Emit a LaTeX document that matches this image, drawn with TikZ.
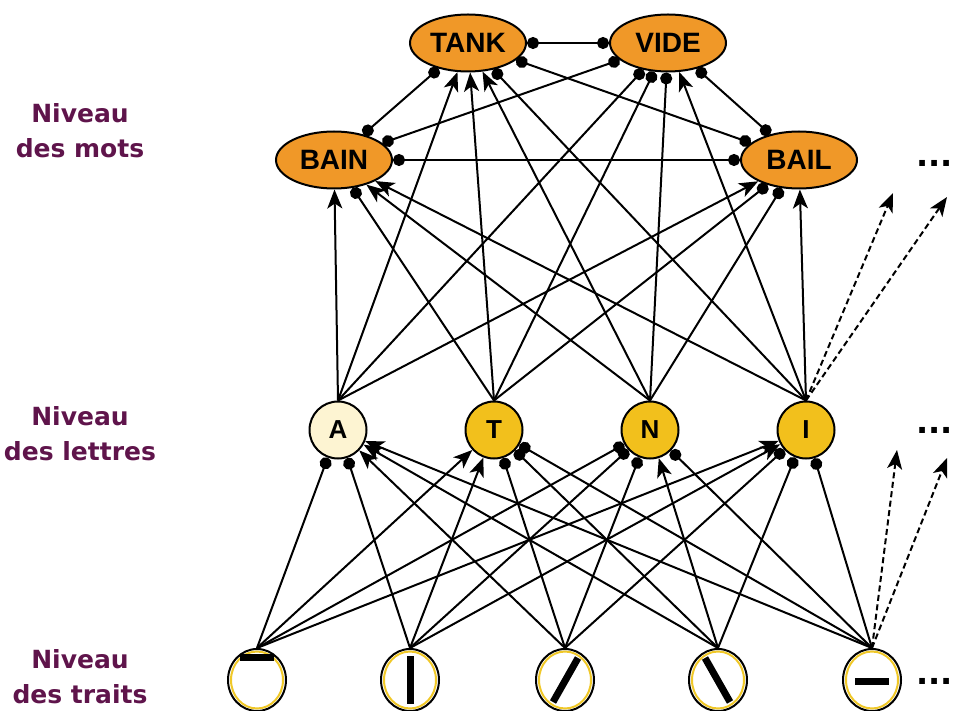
\documentclass[tikz,border=0pt]{standalone}
\usepackage{fontspec}
\setmainfont{Liberation Sans}
\newfontfamily\labfont{DejaVu Sans}
\usetikzlibrary{arrows.meta,shapes.geometric}
\definecolor{wordfill}{RGB}{240,152,40}
\definecolor{letfill}{RGB}{242,192,28}
\definecolor{afill}{RGB}{253,244,210}
\definecolor{featring}{RGB}{240,200,40}
\definecolor{labcol}{RGB}{95,20,75}
\begin{document}
\begin{tikzpicture}[x=1pt,y=-1pt,
  word/.style={ellipse, draw, line width=2pt, fill=wordfill, minimum width=116pt, minimum height=57pt, inner sep=0pt, font=\bfseries\fontsize{28}{28}\selectfont},
  letter/.style={circle, draw, line width=2pt, fill=letfill, minimum size=57pt, inner sep=0pt, font=\bfseries\fontsize{26}{26}\selectfont},
  feat/.style={ellipse, draw, line width=2pt, fill=white, minimum width=58pt, minimum height=62pt, inner sep=0pt},
  lvl/.style={text=labcol, align=center, inner sep=0pt, font=\labfont\bfseries\fontsize{25}{35}\selectfont},
  more/.style={inner sep=0pt, anchor=base west, font=\labfont\bfseries\fontsize{32}{32}\selectfont},
  exc/.style={line width=2pt, -{Stealth[length=19pt,width=15pt,inset=5pt]}},
  inh/.style={line width=2pt, -{Circle[length=12pt]}},
  mut/.style={line width=2pt, {Circle[length=12pt]}-{Circle[length=12pt]}},
  dsh/.style={line width=2pt, dash pattern=on 6pt off 3.5pt, -{Stealth[length=19pt,width=15pt,inset=5pt]}},
  ring/.style={featring, line width=2pt},
  stroke/.style={line width=7pt}
]
\useasboundingbox (0,0) rectangle (953,711);

% level labels
\node[lvl] (Lmots) at (80,131) {Niveau\\des mots};
\node[lvl] (Llet) at (80,434) {Niveau\\des lettres};
\node[lvl] (Ltr) at (80,677) {Niveau\\des traits};

% word nodes
\node[word] (TANK) at (468,43) {TANK};
\node[word] (VIDE) at (668,43) {VIDE};
\node[word] (BAIN) at (334,160) {BAIN};
\node[word] (BAIL) at (799,160) {BAIL};

% letter nodes
\node[letter, fill=afill] (A) at (338,430) {A};
\node[letter] (T) at (494,430) {T};
\node[letter] (N) at (650,430) {N};
\node[letter] (I) at (806,430) {I};

% feature nodes
\node[feat] (F1) at (257,680) {};
\node[feat] (F2) at (410,680) {};
\node[feat] (F3) at (565,680) {};
\node[feat] (F4) at (718,680) {};
\node[feat] (F5) at (872,680) {};
\foreach \f in {F1,F2,F3,F4,F5}{
  \draw[ring] (\f.center) ellipse [x radius=26pt, y radius=28.5pt];
}
\draw[stroke] ([xshift=-17pt,yshift=23pt]F1.center) -- ([xshift=17pt,yshift=23pt]F1.center);
\draw[stroke] ([yshift=24pt]F2.center) -- ([yshift=-24pt]F2.center);
\draw[stroke] ([xshift=-12pt,yshift=-22pt]F3.center) -- ([xshift=13pt,yshift=22pt]F3.center);
\draw[stroke] ([xshift=-13pt,yshift=22pt]F4.center) -- ([xshift=12pt,yshift=-22pt]F4.center);
\draw[stroke] ([xshift=-17pt,yshift=-1pt]F5.center) -- ([xshift=17pt,yshift=-1pt]F5.center);

% ellipses
\node[more] (M1) at (916,167) {...};
\node[more] (M2) at (916,433) {...};
\node[more] (M3) at (916,684) {...};

% word-word inhibition
\draw[mut] (TANK) -- (VIDE);
\draw[mut] (BAIN) -- (BAIL);
\draw[mut] (TANK) -- (BAIN);
\draw[mut] (VIDE) -- (BAIN);
\draw[mut] (TANK) -- (BAIL);
\draw[mut] (VIDE) -- (BAIL);

% letter -> word
\draw[exc] (A.north) -- (BAIN);
\draw[exc] (A.north) -- (TANK);
\draw[inh] (A.north) -- (VIDE);
\draw[exc] (A.north) -- (BAIL);
\draw[inh] (T.north) -- (BAIN);
\draw[exc] (T.north) -- (TANK);
\draw[inh] (T.north) -- (VIDE);
\draw[inh] (T.north) -- (BAIL);
\draw[exc] (N.north) -- (BAIN);
\draw[exc] (N.north) -- (TANK);
\draw[inh] (N.north) -- (VIDE);
\draw[inh] (N.north) -- (BAIL);
\draw[exc] (I.north) -- (BAIN);
\draw[inh] (I.north) -- (TANK);
\draw[exc] (I.north) -- (VIDE);
\draw[exc] (I.north) -- (BAIL);

% feature -> letter
\draw[inh] (F1.north) -- (A);
\draw[exc] (F1.north) -- (T);
\draw[inh] (F1.north) -- (N);
\draw[exc] (F1.north) -- (I);
\draw[inh] (F2.north) -- (A);
\draw[exc] (F2.north) -- (T);
\draw[inh] (F2.north) -- (N);
\draw[exc] (F2.north) -- (I);
\draw[exc] (F3.north) -- (A);
\draw[inh] (F3.north) -- (T);
\draw[inh] (F3.north) -- (N);
\draw[inh] (F3.north) -- (I);
\draw[exc] (F4.north) -- (A);
\draw[inh] (F4.north) -- (T);
\draw[exc] (F4.north) -- (N);
\draw[inh] (F4.north) -- (I);
\draw[exc] (F5.north) -- (A);
\draw[inh] (F5.north) -- (T);
\draw[inh] (F5.north) -- (N);
\draw[inh] (F5.north) -- (I);

% dashed continuations
\coordinate (d1) at (893,193);
\coordinate (d2) at (947,197);
\coordinate (d3) at (897,450);
\coordinate (d4) at (947,458);
\draw[dsh] (I.north) -- (d1);
\draw[dsh] (I.north) -- (d2);
\draw[dsh] (F5.north) -- (d3);
\draw[dsh] (F5.north) -- (d4);
\end{tikzpicture}
\end{document}
